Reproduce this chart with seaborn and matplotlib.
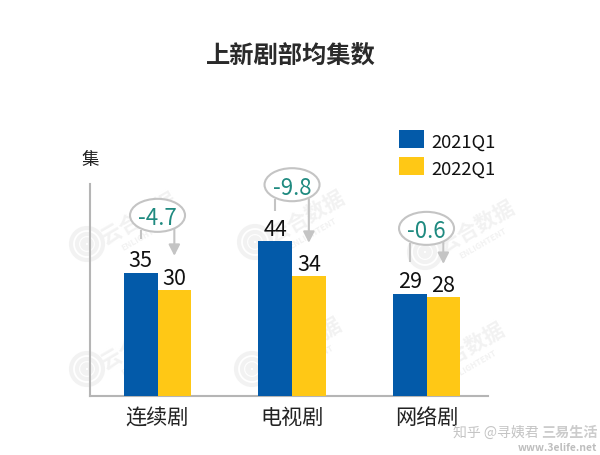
import matplotlib
matplotlib.use("Agg")
import matplotlib.pyplot as plt
from matplotlib.patches import Ellipse, Circle, Rectangle
import seaborn as sns
import pandas as pd

categories = ["连续剧", "电视剧", "网络剧"]
series_names = ["2021Q1", "2022Q1"]
values_2021 = [35, 44, 29]
values_2022 = [30, 34, 28]
changes = ["-4.7", "-9.8", "-0.6"]
bubble_heights = [51.3, 60.0, 47.6]
stem_ends = [44.5, 52.6, 38.1]
arrow_ends = [39.8, 43.5, 37.5]

BLUE = "#035AA9"
YELLOW = "#FFC815"
GREY = "#C4C4C4"
TEAL = "#1F8A80"
WM = "#F2F2F2"

sns.set_theme(style="white")
plt.rcParams["font.family"] = ["Noto Sans CJK SC", "DejaVu Sans"]

df = pd.DataFrame({
    "cat": categories * 2,
    "series": [series_names[0]] * 3 + [series_names[1]] * 3,
    "val": values_2021 + values_2022,
})

fig = plt.figure(figsize=(6, 4.56), dpi=100)
ax = fig.add_axes([90 / 600, 59 / 456, 398 / 600, 212 / 456])
ax.patch.set_alpha(0)
ax.set_zorder(2)

# watermark layer in pixel space, behind the chart
bg = fig.add_axes([0, 0, 1, 1], zorder=0)
bg.set_xlim(0, 600)
bg.set_ylim(456, 0)
bg.axis("off")
for cx, cy in [(87, 245), (255, 243), (425, 253), (87, 370), (252, 370), (415, 375)]:
    for r, w in [(16, 3), (10, 3), (4, 4)]:
        bg.add_patch(Circle((cx, cy), r, fill=False, edgecolor=WM, lw=w))
    bg.text(cx + 52, cy - 26, "云合数据", fontsize=15, color=WM, rotation=30,
            ha="center", va="center", fontweight="bold")
    bg.text(cx + 58, cy - 9, "ENLIGHTENT", fontsize=6, color=WM, rotation=30,
            ha="center", va="center", fontweight="bold")

sns.barplot(data=df, x="cat", y="val", hue="series", order=categories,
            palette=[BLUE, YELLOW], width=0.5, gap=0, saturation=1, ax=ax,
            legend=False, zorder=3, linewidth=0)
ax.set_xlim(-0.502, 2.457)
ax.set_ylim(0, 60.2)
ax.set_xlabel("")
ax.set_ylabel("")
ax.set_yticks([])
ax.tick_params(axis="x", length=0, pad=7, labelsize=15.2, labelcolor="#222222")
for s in ("top", "right"):
    ax.spines[s].set_visible(False)
for s in ("left", "bottom"):
    ax.spines[s].set_color("#B5B5B5")
    ax.spines[s].set_linewidth(1.5)

offset = 0.125
for i in range(3):
    a, b = values_2021[i], values_2022[i]
    ax.annotate(str(a), (i - offset, a), xytext=(0, 1), textcoords="offset points",
                ha="center", va="bottom", fontsize=15.5, color="#111111")
    ax.annotate(str(b), (i + offset, b), xytext=(0, 1), textcoords="offset points",
                ha="center", va="bottom", fontsize=15.5, color="#111111")
    h = bubble_heights[i]
    bottom = h - 16 / 3.52
    ax.plot([i - offset, i - offset], [bottom + 0.5, stem_ends[i]], color=GREY, lw=1.5,
            clip_on=False, zorder=4, solid_capstyle="butt")
    ax.annotate("", xy=(i + offset, arrow_ends[i]), xytext=(i + offset, bottom + 0.5),
                annotation_clip=False, zorder=4,
                arrowprops=dict(arrowstyle="-|>,head_width=0.28,head_length=0.55",
                                color=GREY, lw=1.5, shrinkA=0, shrinkB=0))
    ax.add_patch(Ellipse((i, h), 55 / 134.5, 33 / 3.52, facecolor="white", edgecolor=GREY,
                         lw=1.5, clip_on=False, zorder=5))
    ax.text(i, h, changes[i], ha="center", va="center_baseline", fontsize=16, color=TEAL,
            clip_on=False, zorder=6)

# legend and titles in pixel space
fg = fig.add_axes([0, 0, 1, 1], zorder=3)
fg.set_xlim(0, 600)
fg.set_ylim(456, 0)
fg.axis("off")
for col, name, y in zip([BLUE, YELLOW], series_names, [131, 158]):
    fg.add_patch(Rectangle((399, y), 24.5, 18, facecolor=col, edgecolor="none"))
    fg.text(431, y + 10, name, fontsize=13.2, color="#111111", va="center_baseline", ha="left")

fg.text(291, 54, "上新剧部均集数", fontsize=17.5, fontweight="bold",
        color="#2A2A2A", ha="center", va="center_baseline")
fg.text(90, 158, "集", fontsize=12.5, color="#222222", ha="center", va="center_baseline")

# source watermarks, bottom right
fg.text(539, 431, "知乎 @寻姨君", fontsize=10, color="#C4C4C4", ha="right", va="center_baseline")
fg.text(598, 431, "三易生活", fontsize=10.2, color="#CCCCCC", fontweight="bold", ha="right",
        va="center_baseline")
fg.text(597, 447, "www.3elife.net", fontsize=7.5, color="#BEBEBE",
        fontweight="bold", ha="right", va="center_baseline")

fig.savefig("out.png", dpi=100)
